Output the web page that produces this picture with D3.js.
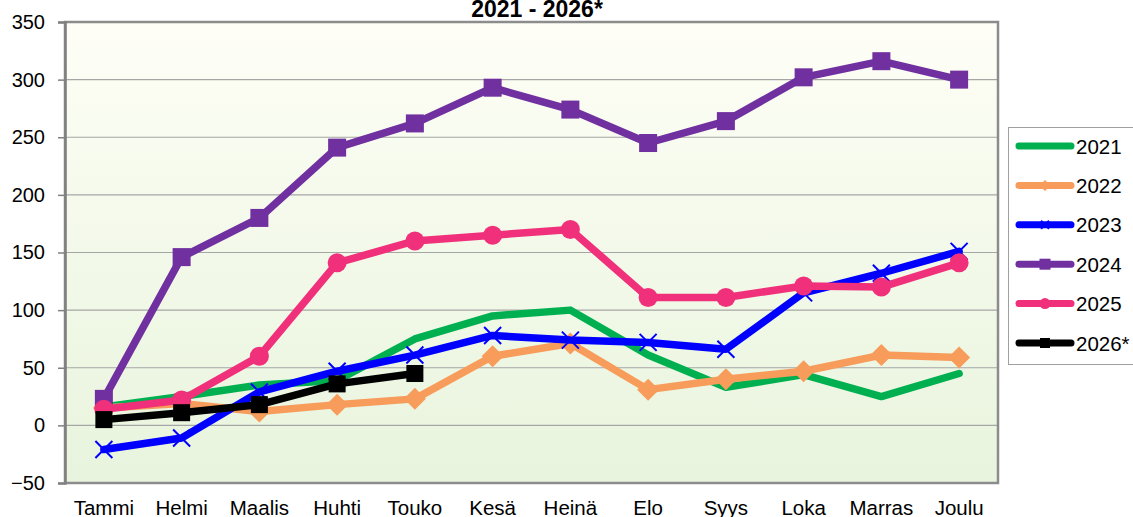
<!DOCTYPE html>
<html>
<head>
<meta charset="utf-8">
<script src="https://cdn.jsdelivr.net/npm/d3@7"></script>
<style>
  body { margin: 0; background: #fff; }
  svg { display: block; font-family: "Liberation Sans", Arial, sans-serif; }
</style>
</head>
<body>
<div id="chart"></div>
<script>
// months and series
var months = ["Tammi", "Helmi", "Maalis", "Huhti", "Touko", "Kesä", "Heinä", "Elo", "Syys", "Loka", "Marras", "Joulu"];
var yTicks = [-50, 0, 50, 100, 150, 200, 250, 300, 350];

var v2021 = [16, 25, 35, 39, 75, 95, 100, 61, 33, 44, 25, 45];
var v2022 = [15, 19, 12, 18, 23, 60, 71, 31, 40, 47, 61, 59];
var v2023 = [-21, -11, 29, 47, 61, 78, 74, 72, 66, 115, 132, 151];
var v2024 = [23, 146, 180, 241, 262, 293, 274, 245, 264, 302, 316, 300];
var v2025 = [14, 22, 60, 141, 160, 165, 170, 111, 111, 121, 120, 141];
var v2026 = [5, 11, 18, 36, 45];

var seriesNames = ["2021", "2022", "2023", "2024", "2025", "2026*"];
var seriesColors = ["#00b050", "#f79c5a", "#0000ff", "#7030a0", "#f0307a", "#000000"];
var seriesMarkers = ["none", "diamond", "cross", "square", "circle", "square"];
var seriesValues = [v2021, v2022, v2023, v2024, v2025, v2026];

var W = 1133, H = 517;
var pLeft = 65, pRight = 998, pTop = 22, pBottom = 483;

var svg = d3.select("#chart").append("svg").attr("width", W).attr("height", H);

var defs = svg.append("defs");
var grad = defs.append("linearGradient").attr("id", "bg").attr("x1", 0).attr("y1", 0).attr("x2", 0).attr("y2", 1);
grad.append("stop").attr("offset", "0%").attr("stop-color", "#fefef6");
grad.append("stop").attr("offset", "100%").attr("stop-color", "#e8f4dd");

var x = d3.scaleBand().domain(months).range([pLeft, pRight]);
var y = d3.scaleLinear().domain([-50, 350]).range([pBottom, pTop]);

svg.append("rect")
    .attr("x", pLeft).attr("y", pTop)
    .attr("width", pRight - pLeft).attr("height", pBottom - pTop)
    .attr("fill", "url(#bg)");

// gridlines
svg.append("g").selectAll("line")
    .data(yTicks.slice(1, -1))
    .enter().append("line")
      .attr("x1", pLeft).attr("x2", pRight)
      .attr("y1", function(d) { return y(d); })
      .attr("y2", function(d) { return y(d); })
      .attr("stroke", "#a6a6a6").attr("stroke-width", 1.2);

svg.append("rect")
    .attr("x", pLeft).attr("y", pTop)
    .attr("width", pRight - pLeft).attr("height", pBottom - pTop)
    .attr("fill", "none").attr("stroke", "#8c8c8c").attr("stroke-width", 2.5);

// y axis
var yAxis = svg.append("g")
    .attr("transform", "translate(" + pLeft + ",0)")
    .call(d3.axisLeft(y).tickValues(yTicks).tickSize(7).tickPadding(13));
yAxis.select(".domain").attr("stroke", "#808080").attr("stroke-width", 2.5);
yAxis.selectAll(".tick line").attr("stroke", "#808080").attr("stroke-width", 1.5);
yAxis.selectAll("text").attr("font-size", 20).attr("fill", "#000")
    .attr("font-family", "Liberation Sans, Arial, sans-serif");

// x axis labels
var xAxis = svg.append("g")
    .attr("transform", "translate(0," + pBottom + ")")
    .call(d3.axisBottom(x).tickSize(0).tickPadding(17));
xAxis.select(".domain").remove();
xAxis.selectAll("text").attr("font-size", 20.5).attr("fill", "#000")
    .attr("font-family", "Liberation Sans, Arial, sans-serif");

var line = d3.line()
    .x(function(d, i) { return x(months[i]) + x.bandwidth() / 2; })
    .y(function(d) { return y(d); });

function drawMarker(g, type, color, cx, cy, s) {
  if (type == "square") {
    g.append("rect").attr("x", cx - s / 2).attr("y", cy - s / 2)
      .attr("width", s).attr("height", s).attr("fill", color);
  } else if (type == "circle") {
    g.append("circle").attr("cx", cx).attr("cy", cy).attr("r", s / 2).attr("fill", color);
  } else if (type == "diamond") {
    var h = s / 2;
    g.append("path")
      .attr("d", "M" + cx + "," + (cy - h) + "L" + (cx + h) + "," + cy + "L" + cx + "," + (cy + h) + "L" + (cx - h) + "," + cy + "Z")
      .attr("fill", color);
  } else if (type == "cross") {
    var h2 = s / 2;
    g.append("path")
      .attr("d", "M" + (cx - h2) + "," + (cy - h2) + "L" + (cx + h2) + "," + (cy + h2) + "M" + (cx + h2) + "," + (cy - h2) + "L" + (cx - h2) + "," + (cy + h2))
      .attr("stroke", color).attr("stroke-width", 2).attr("fill", "none");
  }
}

var markerSize = { square: 18, circle: 19, diamond: 22, cross: 17 };

seriesValues.forEach(function(vals, k) {
  var g = svg.append("g");
  var color = seriesColors[k];
  g.append("path")
    .attr("d", line(vals))
    .attr("fill", "none")
    .attr("stroke", color)
    .attr("stroke-width", 7.5)
    .attr("stroke-linejoin", "round")
    .attr("stroke-linecap", "round");
  var type = seriesMarkers[k];
  if (type != "none") {
    vals.forEach(function(v, i) {
      var s = markerSize[type];
      if (k == 5) s = 17;
      drawMarker(g, type, color, x(months[i]) + x.bandwidth() / 2, y(v), s);
    });
  }
});

// title (upper line falls outside the picture)
svg.append("text")
    .attr("x", 537).attr("y", 17)
    .attr("text-anchor", "middle")
    .attr("font-size", 23).attr("font-weight", "bold")
    .text("2021 - 2026*");

// legend
var lg = svg.append("g");
lg.append("rect")
    .attr("x", 1008.5).attr("y", 127.5)
    .attr("width", 140).attr("height", 237)
    .attr("fill", "#fff").attr("stroke", "#a0a0a0").attr("stroke-width", 1);

seriesNames.forEach(function(name, k) {
  var ly = 146 + k * 39.4;
  var color = seriesColors[k];
  lg.append("line")
    .attr("x1", 1019).attr("x2", 1071)
    .attr("y1", ly).attr("y2", ly)
    .attr("stroke", color).attr("stroke-width", 7).attr("stroke-linecap", "round");
  var type = seriesMarkers[k];
  if (type == "square") drawMarker(lg, "square", color, 1045, ly, k == 5 ? 10 : 11);
  if (type == "circle") drawMarker(lg, "circle", color, 1045, ly, 11);
  if (type == "diamond") drawMarker(lg, "diamond", color, 1045, ly, 11);
  if (type == "cross") drawMarker(lg, "cross", color, 1045, ly, 8);
  lg.append("text")
    .attr("x", 1076).attr("y", ly + 7.5)
    .attr("font-size", 20.5)
    .text(name);
});
</script>
</body>
</html>
